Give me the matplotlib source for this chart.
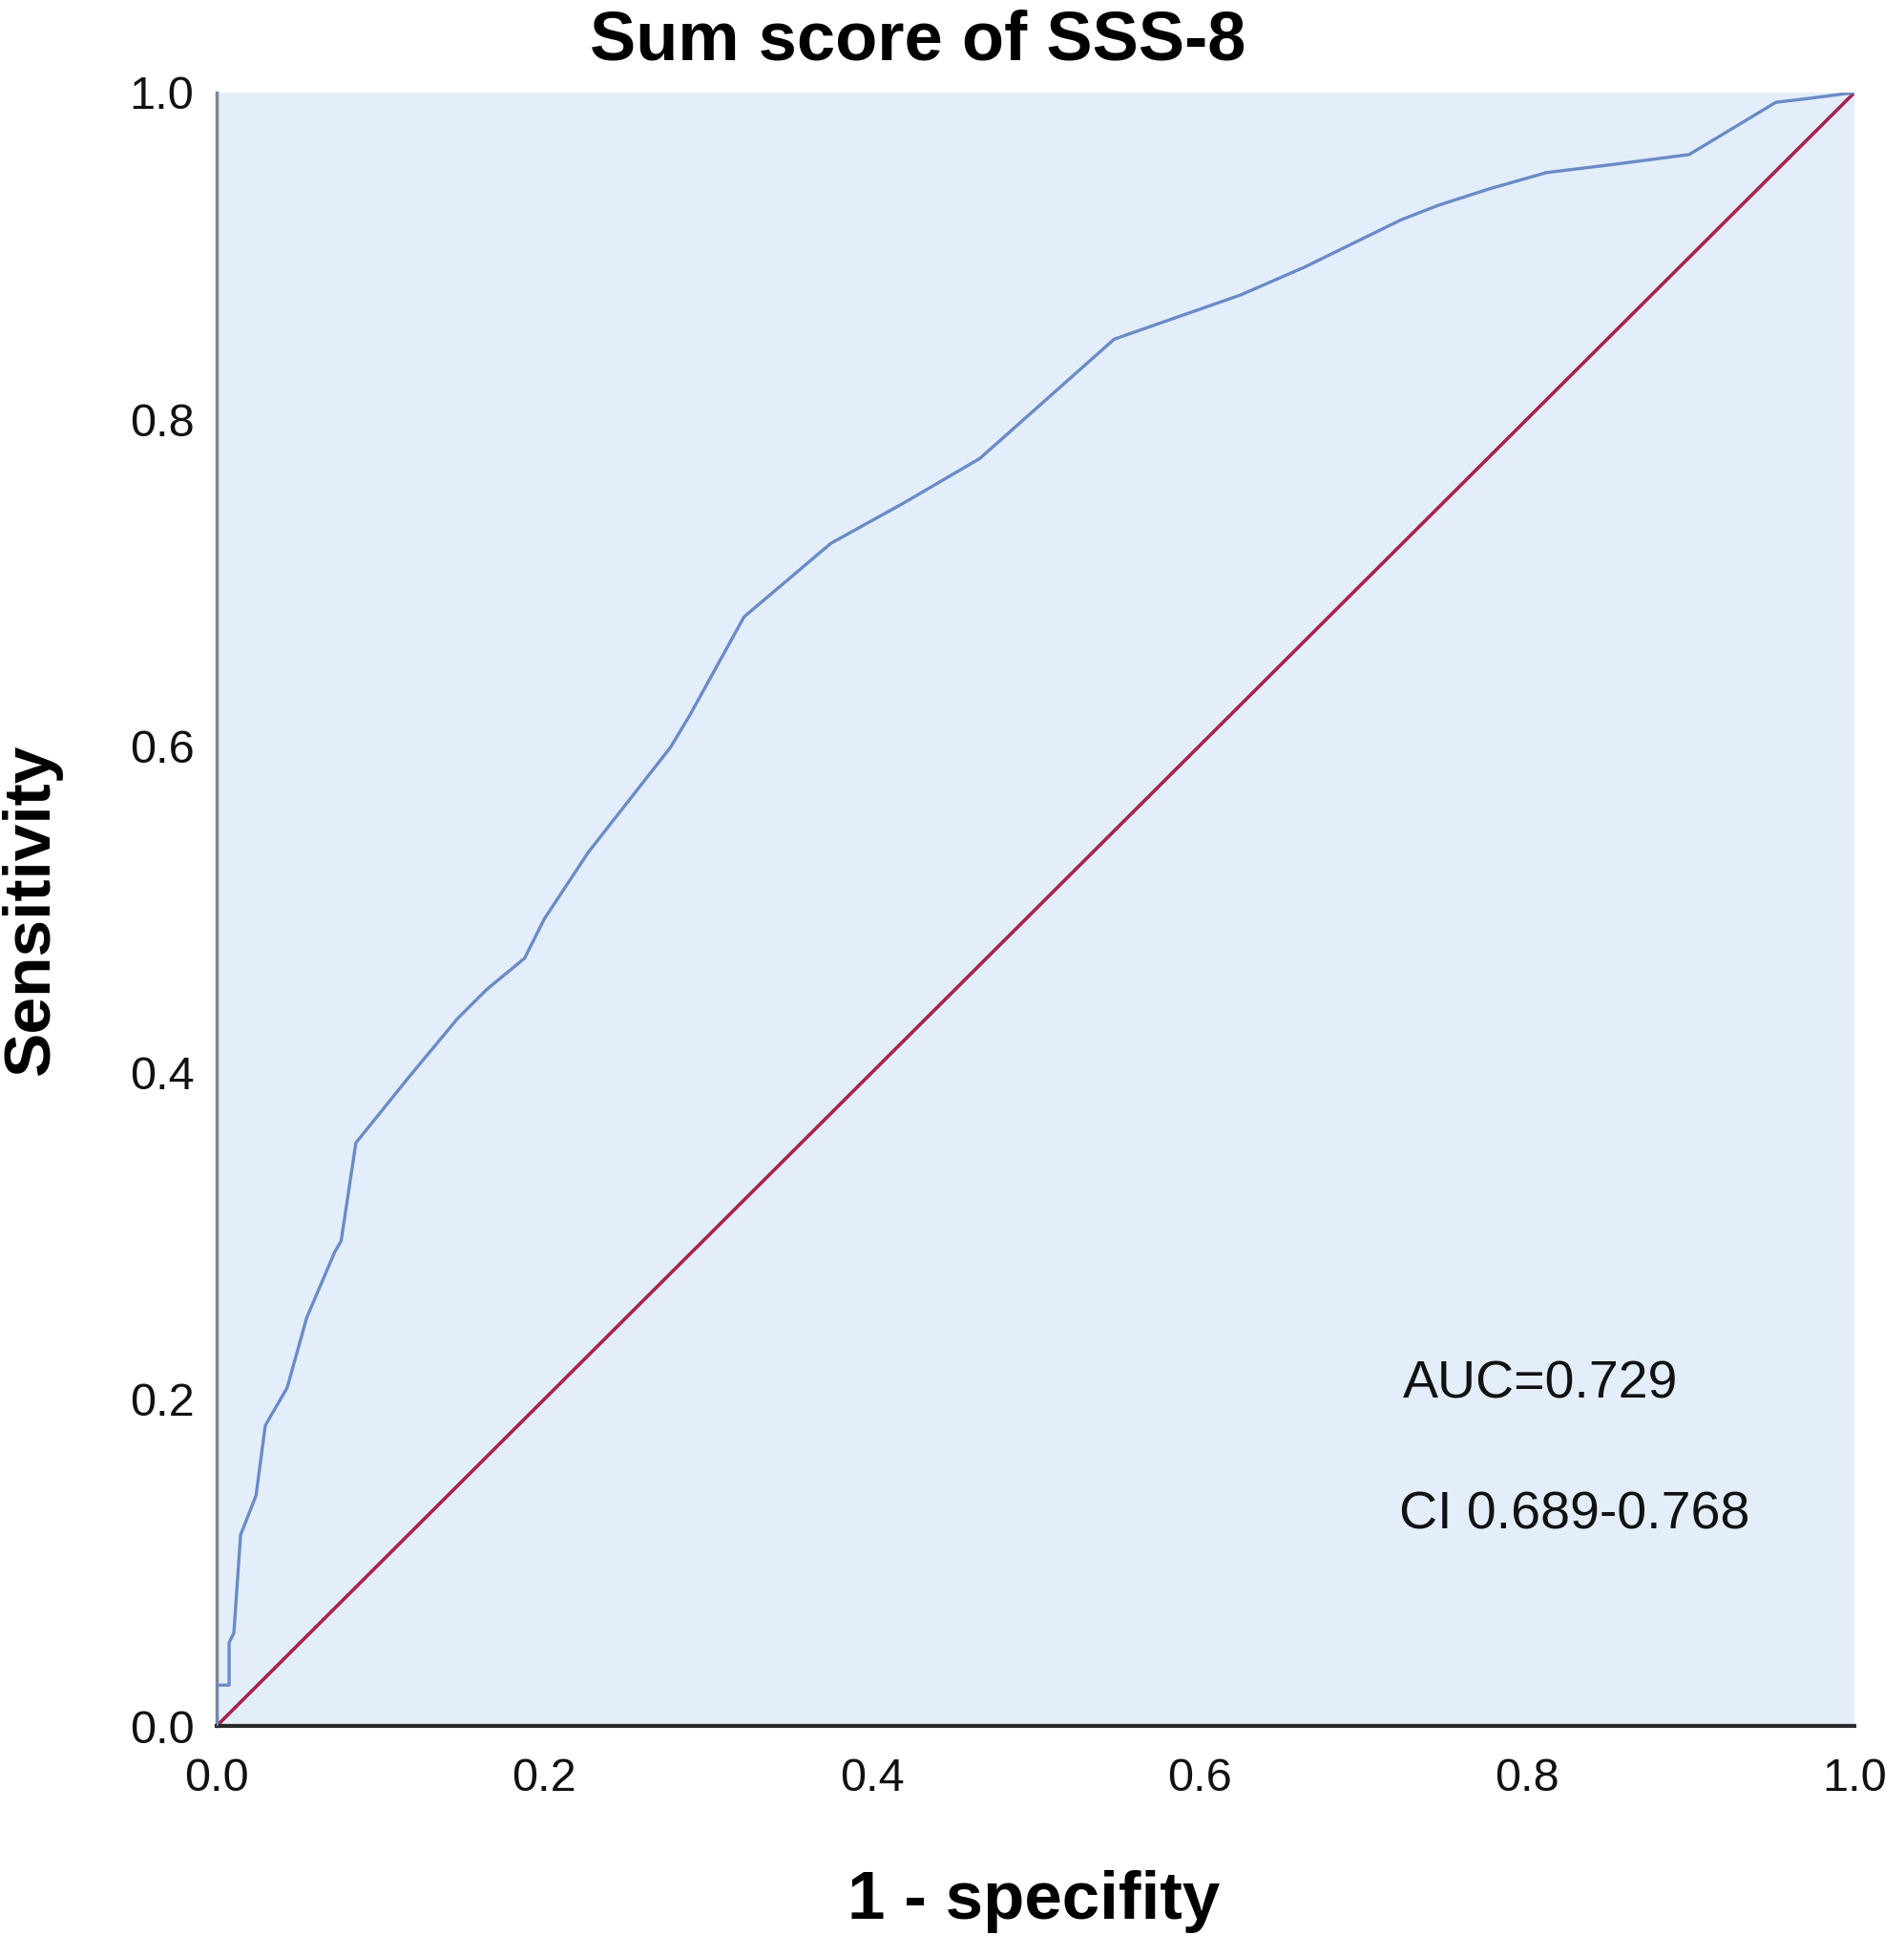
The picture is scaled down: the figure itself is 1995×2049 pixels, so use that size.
import matplotlib
matplotlib.use('Agg')
import matplotlib.pyplot as plt

plt.rcParams['font.family'] = ['Liberation Sans', 'DejaVu Sans']

# ROC curve points
fpr = [0, 0, 0.0076, 0.0076, 0.0105, 0.0146, 0.024, 0.0297, 0.043, 0.055,
       0.072, 0.076, 0.085, 0.118, 0.147, 0.165, 0.188, 0.200, 0.227, 0.277,
       0.289, 0.322, 0.375, 0.420, 0.466, 0.548, 0.625, 0.664, 0.723, 0.746,
       0.777, 0.812, 0.853, 0.899, 0.952, 0.969, 1.0]
tpr = [0, 0.025, 0.025, 0.051, 0.057, 0.117, 0.141, 0.184, 0.207, 0.250,
       0.290, 0.297, 0.357, 0.398, 0.433, 0.451, 0.470, 0.494, 0.535, 0.599,
       0.619, 0.679, 0.724, 0.749, 0.776, 0.849, 0.876, 0.893, 0.922, 0.931,
       0.941, 0.951, 0.956, 0.962, 0.994, 0.996, 1.0]
ref_line = [0, 1]
ticks = [0.0, 0.2, 0.4, 0.6, 0.8, 1.0]
tick_labels = ['0.0', '0.2', '0.4', '0.6', '0.8', '1.0']

title = 'Sum score of SSS-8'
auc_text = 'AUC=0.729'
ci_text = 'CI 0.689-0.768'

fig = plt.figure(figsize=(19.95, 20.49), dpi=100)
ax = fig.add_axes([0.1138, 0.1176, 0.8602, 0.8351])
ax.set_facecolor('#e3eefa')

ax.plot(ref_line, ref_line, color='#a8234b', lw=2.6, zorder=2)
ax.plot(fpr, tpr, color='#6a8bc6', lw=2.4, zorder=3)

ax.set_xlim(0, 1)
ax.set_ylim(0, 1)
ax.set_xticks(ticks)
ax.set_xticklabels(tick_labels)
ax.set_yticks(ticks)
ax.set_yticklabels(tick_labels)
ax.tick_params(axis='both', length=0, labelsize=35, colors='#111111')
ax.tick_params(axis='x', pad=24)
ax.tick_params(axis='y', pad=17)

ax.spines['top'].set_visible(False)
ax.spines['right'].set_visible(False)
ax.spines['left'].set_color('#7d8790')
ax.spines['left'].set_linewidth(2.5)
ax.spines['bottom'].set_color('#2a2a2a')
ax.spines['bottom'].set_linewidth(3)

ax.text(0.724, 0.209, auc_text, fontsize=40, va='center', ha='left', color='#111111')
ax.text(0.722, 0.129, ci_text, fontsize=40, va='center', ha='left', color='#111111')

fig.text(0.482, 0.979, title, fontsize=52, fontweight='bold', ha='center', va='center')
fig.text(0.0165, 0.535, 'Sensitivity', fontsize=50, fontweight='bold', rotation=90,
         ha='center', va='center')
fig.text(0.543, 0.028, '1 - specifity', fontsize=51, fontweight='bold', ha='center', va='center')

fig.savefig('out.png', dpi=100, facecolor='white')
